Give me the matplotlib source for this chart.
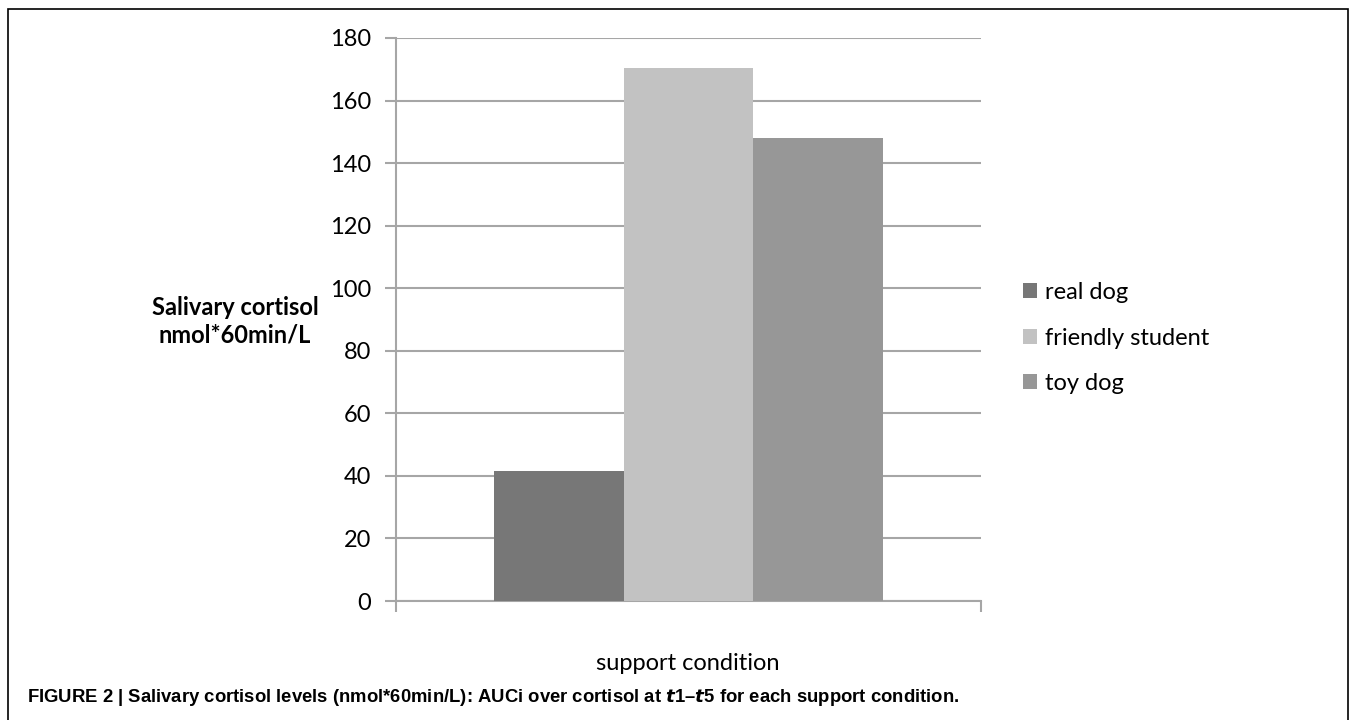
import matplotlib
matplotlib.use('Agg')
import matplotlib.pyplot as plt
from matplotlib.patches import Rectangle, Patch

# values
conditions = ['real dog', 'friendly student', 'toy dog']
cortisol_auc = [41.6, 170.4, 148.0]
bar_colors = ['#777777', '#c2c2c2', '#979797']
y_ticks = [0, 20, 40, 60, 80, 100, 120, 140, 160, 180]

plt.rcParams['font.family'] = ['Lato', 'DejaVu Sans']
plt.rcParams['mathtext.fontset'] = 'custom'
plt.rcParams['mathtext.it'] = 'Liberation Sans Narrow:italic:bold'
plt.rcParams['mathtext.rm'] = 'Liberation Sans Narrow:bold'

grey = '#a6a6a6'
W, H = 1354, 720

fig = plt.figure(figsize=(W / 100, H / 100), dpi=100)
ax = fig.add_axes([396 / W, 1 - 601 / H, (981 - 396) / W, (601 - 38) / H])

bar_w = 0.2217
offsets = [(i - 1) * bar_w for i in range(len(conditions))]
for off, val, col, name in zip(offsets, cortisol_auc, bar_colors, conditions):
    ax.bar(off, val, width=bar_w, color=col, zorder=3, label=name)

ax.set_xlim(-0.5, 0.5)
ax.set_ylim(0, 180)
ax.set_yticks(y_ticks)
ax.set_xticks([-0.5, 0.5])
ax.set_xticklabels([])
ax.yaxis.grid(True, color=grey, linewidth=1.5, zorder=0)
ax.set_axisbelow(True)
for s in ['top', 'right']:
    ax.spines[s].set_visible(False)
for s in ['left', 'bottom']:
    ax.spines[s].set_color(grey)
    ax.spines[s].set_linewidth(1.5)
ax.tick_params(axis='both', length=8, width=1.5, color=grey, direction='out')
ax.tick_params(axis='y', labelsize=17, pad=10)

fig.text(235 / W, 1 - 321 / H, 'Salivary cortisol\nnmol*60min/L', ha='center', va='center',
         fontsize=17, fontweight='bold', linespacing=1.25)
fig.text(688 / W, 1 - 663 / H, 'support condition', ha='center', va='center', fontsize=17)

handles = [Patch(facecolor=c, edgecolor='none') for c in bar_colors]
fig.legend(handles, conditions, loc='center left', bbox_to_anchor=(1023 / W, 1 - 338 / H),
           frameon=False, fontsize=17, handlelength=0.6, handleheight=0.6,
           handletextpad=0.35, labelspacing=1.05, borderpad=0, borderaxespad=0)

fig.text(27 / W, 1 - 697 / H,
         'FIGURE 2 | Salivary cortisol levels (nmol*60min/L): AUCi over cortisol at $t$1–$t$5 for each support condition.',
         ha='left', va='center', fontsize=13.3, fontweight='bold',
         family=['Liberation Sans Narrow', 'Liberation Sans', 'DejaVu Sans'])

fig.patches.append(Rectangle((8 / W, -0.1), (1348 - 8) / W, 1 - 9 / H + 0.1,
                             transform=fig.transFigure, fill=False, edgecolor='black',
                             linewidth=1.2, clip_on=False))

fig.savefig('out.png', dpi=100)
